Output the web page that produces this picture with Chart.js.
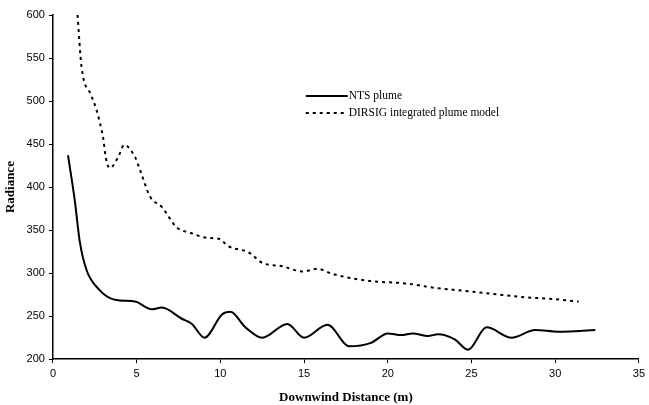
<!DOCTYPE html>
<html>
<head>
<meta charset="utf-8">
<script src="https://cdn.jsdelivr.net/npm/chart.js@4"></script>
<style>
    html, body { margin: 0; padding: 0; background: #fff; }
    #wrap { width: 649px; height: 405px; position: relative; }
</style>
</head>
<body>
<div id="wrap"><canvas id="plumeChart"></canvas></div>
<script>
// data
const ntsDist = [0.9, 1.3, 1.6, 2.0, 2.7, 3.7, 4.9, 5.9, 6.5, 7.7, 8.3, 9.05, 10.1, 10.6, 11.5, 12.5, 14.0, 15.0, 16.4, 17.7, 19.0, 20.0, 20.8, 21.5, 22.4, 23.0, 24.0, 24.8, 25.9, 27.4, 28.8, 30.2, 32.4];
const ntsRad = [437, 385, 337, 304, 282, 269, 267, 258, 260, 247, 241, 225, 252, 255, 237, 225, 241, 225, 240, 215, 219, 230, 228, 230, 227, 229, 223, 211, 237, 225, 234, 232, 234];

const dirsigDist = [1.47, 1.7, 2.3, 2.6, 2.8, 3.0, 3.15, 3.4, 3.9, 4.25, 4.9, 5.2, 5.8, 6.5, 7.4, 8.2, 9.2, 9.9, 10.5, 11.7, 12.5, 13.7, 14.9, 15.8, 16.7, 18.9, 21.1, 22.8, 24.8, 26.2, 28.2, 29.8, 31.4];
const dirsigRad = [600, 541, 506, 490, 475, 457, 435, 422, 435, 449, 435, 420, 389, 377, 353, 347, 341, 340, 331, 324, 312, 308, 302, 305, 299, 291, 288, 283, 279, 276, 272, 270, 267];

const seriesNames = ["NTS plume", "DIRSIG integrated plume model"];

function toPoints(xs, ys) {
    return xs.map((x, i) => ({ x: x, y: ys[i] }));
}

// legend drawn inside the plot, like the original figure
const innerLegend = {
    id: "innerLegend",
    afterDraw(chart) {
        const ctx = chart.ctx;
        const x0 = chart.scales.x.getPixelForValue(15.1);
        const y0 = chart.scales.y.getPixelForValue(506);
        ctx.save();
        ctx.font = "11.5px 'Liberation Serif'";
        ctx.fillStyle = "#000";
        ctx.textBaseline = "middle";
        chart.data.datasets.forEach((ds, i) => {
            const y = y0 + i * 17;
            ctx.beginPath();
            ctx.strokeStyle = "#000";
            ctx.lineWidth = ds.borderWidth;
            ctx.setLineDash(ds.borderDash || []);
            ctx.moveTo(x0, y);
            ctx.lineTo(x0 + 42, y);
            ctx.stroke();
            ctx.fillText(ds.label, x0 + 43, y);
        });
        ctx.restore();
    }
};

new Chart(document.getElementById("plumeChart"), {
    type: "line",
    data: {
        datasets: [
            {
                label: seriesNames[0],
                data: toPoints(ntsDist, ntsRad),
                borderColor: "#000",
                borderWidth: 2,
                pointRadius: 0,
                cubicInterpolationMode: "monotone",
                fill: false
            },
            {
                label: seriesNames[1],
                data: toPoints(dirsigDist, dirsigRad),
                borderColor: "#000",
                borderWidth: 2,
                borderDash: [3, 4],
                pointRadius: 0,
                cubicInterpolationMode: "monotone",
                fill: false
            }
        ]
    },
    options: {
        responsive: true,
        maintainAspectRatio: false,
        animation: false,
        layout: {
            padding: { left: 3, right: 2, top: 15, bottom: 0 }
        },
        plugins: {
            legend: { display: false },
            tooltip: { enabled: false }
        },
        scales: {
            x: {
                type: "linear",
                min: 0,
                max: 35,
                ticks: {
                    stepSize: 5,
                    color: "#000",
                    font: { family: "'Liberation Sans'", size: 11 },
                    padding: 4
                },
                grid: {
                    drawOnChartArea: false,
                    color: "#000",
                    tickLength: 4
                },
                border: { color: "#000", width: 1.5 },
                title: {
                    display: true,
                    text: "Downwind Distance (m)",
                    color: "#000",
                    font: { family: "'Liberation Serif'", size: 13, weight: "bold" },
                    padding: { top: 5, bottom: 0 }
                }
            },
            y: {
                min: 200,
                max: 600,
                ticks: {
                    stepSize: 50,
                    color: "#000",
                    font: { family: "'Liberation Sans'", size: 11 },
                    padding: 4
                },
                grid: {
                    drawOnChartArea: false,
                    color: "#000",
                    tickLength: 4
                },
                border: { color: "#000", width: 1.5 },
                title: {
                    display: true,
                    text: "Radiance",
                    color: "#000",
                    font: { family: "'Liberation Serif'", size: 13, weight: "bold" },
                    padding: { top: 0, bottom: 4 }
                }
            }
        }
    },
    plugins: [innerLegend]
});
</script>
</body>
</html>
